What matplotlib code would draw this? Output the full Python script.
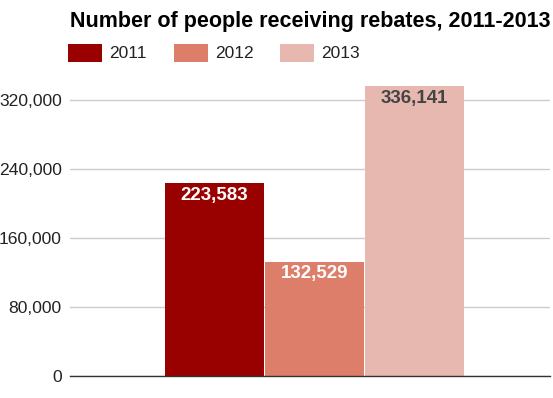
import matplotlib
matplotlib.use('Agg')
import matplotlib.pyplot as plt
from matplotlib.patches import Rectangle
from matplotlib.ticker import FuncFormatter

plt.rcParams['font.family'] = ['Liberation Sans', 'DejaVu Sans']

YEARS = ['2011', '2012', '2013']
VALUES = [223583, 132529, 336141]
COLORS = ['#990000', '#dd7e6b', '#e6b8af']
LABEL_COLORS = ['white', 'white', '#444444']
TICKS = [0, 80000, 160000, 240000, 320000]

fig = plt.figure(figsize=(5.53, 3.98), dpi=100)
ax = fig.add_axes([70 / 553, 1 - 376 / 398, 480 / 553, (376 - 83) / 398])

xs = [-1, 0, 1]
ax.bar(xs, VALUES, width=0.99, color=COLORS, linewidth=0, zorder=3)
for x, v, c in zip(xs, VALUES, LABEL_COLORS):
    ax.text(x, v - 4000, f'{v:,}', ha='center', va='top', color=c,
            fontsize=13.5, fontweight='bold', zorder=4)

ax.set_xlim(-2.445, 2.35)
ax.set_ylim(0, 340000)
ax.set_yticks(TICKS)
ax.yaxis.set_major_formatter(FuncFormatter(lambda v, p: f'{int(v):,}'))
ax.tick_params(axis='y', length=0, labelsize=12.6, labelcolor='#222222', pad=6)
ax.set_xticks([])
ax.grid(True, axis='y', color='#cccccc', linewidth=1, zorder=0)
for side in ['top', 'right', 'left']:
    ax.spines[side].set_visible(False)
ax.spines['bottom'].set_color('#333333')
ax.spines['bottom'].set_linewidth(1)
ax.spines['bottom'].set_zorder(5)

fig.text(70 / 553, 1 - 22 / 398, 'Number of people receiving rebates, 2011-2013',
         fontsize=15.5, fontweight='bold', va='center', ha='left', color='black')

# legend
leg_x = [68, 174, 280]
for lx, yr, col in zip(leg_x, YEARS, COLORS):
    fig.add_artist(Rectangle((lx / 553, 1 - 62 / 398), 34 / 553, 18 / 398,
                             transform=fig.transFigure, color=col, linewidth=0))
    fig.text((lx + 41) / 553, 1 - 53 / 398, yr, fontsize=12.5, va='center',
             ha='left', color='#222222')

fig.savefig('out.png', dpi=100)
